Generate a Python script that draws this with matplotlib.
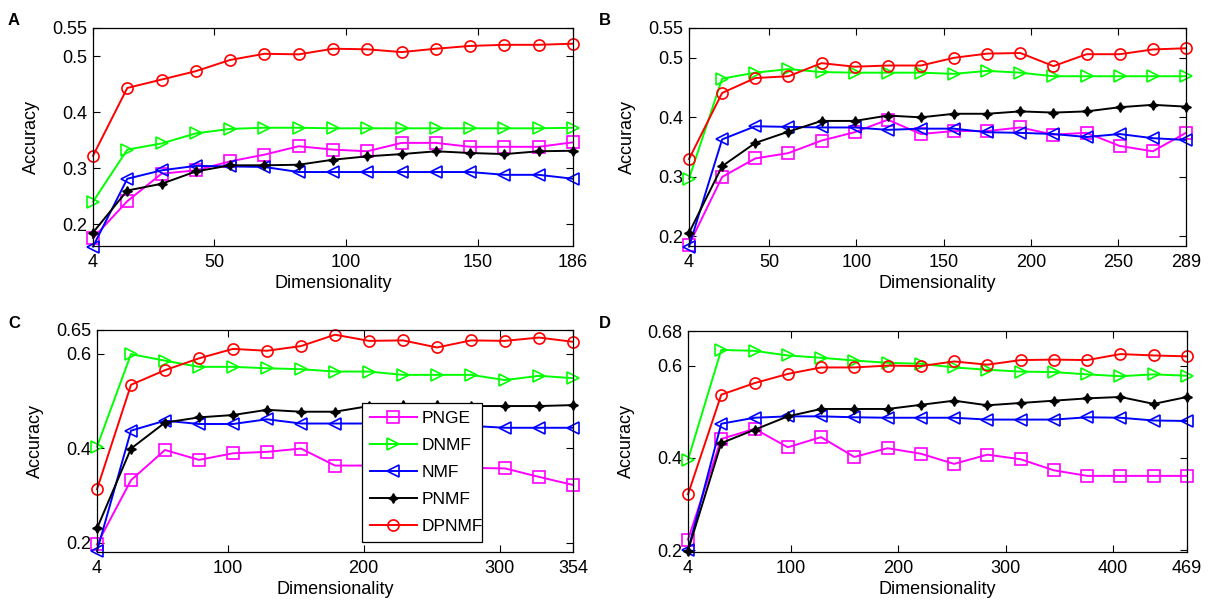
import matplotlib
matplotlib.use("Agg")
import matplotlib.pyplot as plt

plt.rcParams['font.family'] = ['Liberation Sans', 'DejaVu Sans']

methods = ["PNGE", "DNMF", "NMF", "PNMF", "DPNMF"]
colors = ["#FF00FF", "#00FF00", "#0000FF", "#000000", "#FF0000"]
markers = ["s", ">", "<", (4, 1, 0), "o"]

# Panel A
dims_A = [4, 17, 30, 43, 56, 69, 82, 95, 108, 121, 134, 147, 160, 173, 186]
A_PNGE = [0.175, 0.241, 0.290, 0.296, 0.312, 0.324, 0.339, 0.333, 0.330, 0.345, 0.345, 0.338, 0.338, 0.338, 0.346]
A_DNMF = [0.240, 0.333, 0.344, 0.362, 0.370, 0.372, 0.372, 0.371, 0.371, 0.371, 0.371, 0.371, 0.371, 0.371, 0.372]
A_NMF = [0.160, 0.281, 0.296, 0.304, 0.303, 0.302, 0.293, 0.293, 0.293, 0.293, 0.293, 0.293, 0.288, 0.288, 0.281]
A_PNMF = [0.185, 0.260, 0.272, 0.294, 0.305, 0.305, 0.306, 0.315, 0.321, 0.325, 0.330, 0.327, 0.325, 0.330, 0.331]
A_DPNMF = [0.322, 0.443, 0.458, 0.473, 0.493, 0.504, 0.503, 0.513, 0.512, 0.507, 0.513, 0.518, 0.520, 0.520, 0.522]

# Panel B
dims_B = [4, 23, 42, 61, 80, 99, 118, 137, 156, 175, 194, 213, 232, 251, 270, 289]
B_PNGE = [0.186, 0.300, 0.331, 0.340, 0.361, 0.375, 0.396, 0.372, 0.377, 0.377, 0.383, 0.371, 0.374, 0.352, 0.343, 0.374]
B_DNMF = [0.297, 0.465, 0.475, 0.481, 0.476, 0.475, 0.475, 0.475, 0.473, 0.478, 0.475, 0.469, 0.469, 0.469, 0.469, 0.469]
B_NMF = [0.183, 0.363, 0.385, 0.384, 0.383, 0.383, 0.379, 0.381, 0.381, 0.375, 0.374, 0.372, 0.367, 0.372, 0.365, 0.362]
B_PNMF = [0.206, 0.318, 0.357, 0.376, 0.394, 0.394, 0.403, 0.400, 0.406, 0.406, 0.410, 0.408, 0.410, 0.417, 0.421, 0.418]
B_DPNMF = [0.330, 0.441, 0.466, 0.469, 0.491, 0.485, 0.487, 0.487, 0.500, 0.507, 0.508, 0.486, 0.506, 0.506, 0.514, 0.516]

# Panel C
dims_C = [4, 29, 54, 79, 104, 129, 154, 179, 204, 229, 254, 279, 304, 329, 354]
C_PNGE = [0.196, 0.332, 0.396, 0.375, 0.389, 0.392, 0.399, 0.363, 0.363, 0.362, 0.360, 0.358, 0.357, 0.339, 0.322]
C_DNMF = [0.403, 0.599, 0.585, 0.572, 0.572, 0.569, 0.567, 0.562, 0.562, 0.555, 0.555, 0.555, 0.544, 0.553, 0.548]
C_NMF = [0.182, 0.437, 0.458, 0.451, 0.451, 0.461, 0.452, 0.452, 0.452, 0.450, 0.449, 0.447, 0.443, 0.443, 0.443]
C_PNMF = [0.230, 0.399, 0.454, 0.465, 0.470, 0.481, 0.477, 0.477, 0.489, 0.491, 0.491, 0.489, 0.489, 0.489, 0.491]
C_DPNMF = [0.313, 0.534, 0.565, 0.590, 0.610, 0.606, 0.616, 0.640, 0.627, 0.628, 0.613, 0.628, 0.627, 0.634, 0.625]

# Panel D
dims_D = [4, 35, 66, 97, 128, 159, 190, 221, 252, 283, 314, 345, 376, 407, 438, 469]
D_PNGE = [0.223, 0.441, 0.463, 0.423, 0.445, 0.402, 0.421, 0.409, 0.387, 0.407, 0.397, 0.373, 0.361, 0.361, 0.361, 0.361]
D_DNMF = [0.396, 0.634, 0.632, 0.622, 0.617, 0.611, 0.606, 0.604, 0.596, 0.591, 0.587, 0.586, 0.581, 0.577, 0.581, 0.578]
D_NMF = [0.200, 0.474, 0.487, 0.490, 0.490, 0.488, 0.487, 0.487, 0.487, 0.483, 0.483, 0.483, 0.488, 0.487, 0.481, 0.480]
D_PNMF = [0.199, 0.432, 0.461, 0.490, 0.506, 0.506, 0.506, 0.515, 0.524, 0.514, 0.519, 0.524, 0.529, 0.532, 0.517, 0.532]
D_DPNMF = [0.321, 0.537, 0.562, 0.582, 0.596, 0.596, 0.600, 0.599, 0.609, 0.602, 0.612, 0.613, 0.612, 0.625, 0.622, 0.620]

panels = [
    ("A", dims_A, [A_PNGE, A_DNMF, A_NMF, A_PNMF, A_DPNMF], [4, 50, 100, 150, 186], (0.161, 0.55), [0.2, 0.3, 0.4, 0.5, 0.55], ["0.2", "0.3", "0.4", "0.5", "0.55"]),
    ("B", dims_B, [B_PNGE, B_DNMF, B_NMF, B_PNMF, B_DPNMF], [4, 50, 100, 150, 200, 250, 289], (0.184, 0.55), [0.2, 0.3, 0.4, 0.5, 0.55], ["0.2", "0.3", "0.4", "0.5", "0.55"]),
    ("C", dims_C, [C_PNGE, C_DNMF, C_NMF, C_PNMF, C_DPNMF], [4, 100, 200, 300, 354], (0.180, 0.65), [0.2, 0.4, 0.6, 0.65], ["0.2", "0.4", "0.6", "0.65"]),
    ("D", dims_D, [D_PNGE, D_DNMF, D_NMF, D_PNMF, D_DPNMF], [4, 100, 200, 300, 400, 469], (0.196, 0.675), [0.2, 0.4, 0.6, 0.675], ["0.2", "0.4", "0.6", "0.68"]),
]

W, H = 1209, 607
fig = plt.figure(figsize=(W / 100, H / 100), dpi=100)
# axes boxes in pixels: left, right, top, bottom
boxes = [(93, 573, 28, 246), (689, 1186, 28, 246), (97, 573, 330, 552), (688, 1187, 331, 552)]
label_pos = [(8, 25), (599, 25), (8, 328), (599, 328)]

fs = 13
for (name, dims, series, xt, ylim, yt, ytl), (l, r, t, b), (lx, ly) in zip(panels, boxes, label_pos):
    ax = fig.add_axes([l / W, 1 - b / H, (r - l) / W, (b - t) / H])
    for m, vals, c, mk in zip(methods, series, colors, markers):
        if m == "PNMF":
            ax.plot(dims, vals, color=c, marker=mk, markersize=7, markerfacecolor=c,
                    markeredgecolor=c, linewidth=1.4, label=m, clip_on=False)
        else:
            ax.plot(dims, vals, color=c, marker=mk, markersize=8, markerfacecolor="none",
                    markeredgecolor=c, markeredgewidth=1.2, linewidth=1.4, label=m, clip_on=False)
    ax.set_xlim(dims[0], dims[-1])
    ax.set_ylim(*ylim)
    ax.set_xticks(xt)
    ax.set_yticks(yt)
    ax.set_yticklabels(ytl)
    ax.tick_params(direction="in", top=True, right=True, labelsize=fs, length=5)
    ax.tick_params(axis="x", pad=6)
    ax.tick_params(axis="y", pad=4)
    ax.set_xlabel("Dimensionality", fontsize=fs, labelpad=3)
    ax.set_ylabel("Accuracy", fontsize=fs, labelpad=9)
    for s in ax.spines.values():
        s.set_linewidth(0.9)
    fig.text(lx / W, 1 - ly / H, name, fontsize=12, fontweight="bold", ha="left", va="baseline")
    if name == "C":
        leg = ax.legend(loc="lower left", bbox_to_anchor=(0.557, 0.045, 0.252, 0.604), mode="expand",
                        fontsize=12.5, frameon=True, fancybox=False, edgecolor="black",
                        facecolor="white", framealpha=1.0,
                        handlelength=2.7, handletextpad=0.3, borderaxespad=0,
                        labelspacing=0.68, borderpad=0.45)
        leg.get_frame().set_linewidth(0.9)
        leg.set_zorder(5)

fig.savefig("out.png", dpi=100)
